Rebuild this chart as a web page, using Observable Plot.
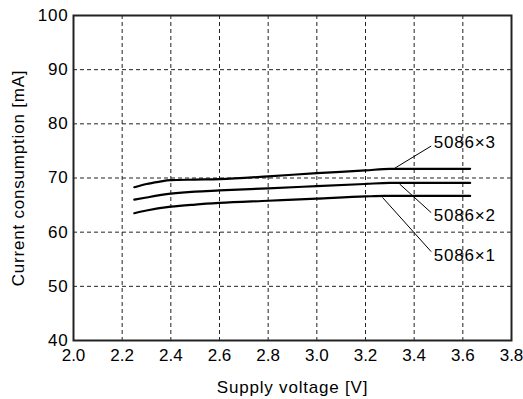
<!DOCTYPE html>
<html>
<head>
<meta charset="utf-8">
<script src="https://cdn.jsdelivr.net/npm/d3@7"></script>
<script src="https://cdn.jsdelivr.net/npm/@observablehq/plot@0.6"></script>
<style>
  html, body { margin: 0; padding: 0; background: #fff; }
  #chart g[aria-label="x-axis tick label"] { letter-spacing: 0px; }
</style>
</head>
<body>
<div id="chart"></div>
<script>
// Supply voltage [V] vs current consumption [mA]
const x1 = [2.25, 2.3, 2.4, 2.5, 2.6, 2.8, 3.0, 3.2, 3.28, 3.63];
const y1 = [63.5, 64.0, 64.7, 65.1, 65.4, 65.8, 66.2, 66.6, 66.7, 66.7];
const x2 = [2.25, 2.3, 2.4, 2.5, 2.6, 2.8, 3.0, 3.2, 3.3, 3.63];
const y2 = [66.0, 66.4, 67.1, 67.5, 67.7, 68.1, 68.5, 68.9, 69.1, 69.1];
const x3 = [2.25, 2.3, 2.35, 2.4, 2.5, 2.6, 2.8, 3.0, 3.2, 3.3, 3.63];
const y3 = [68.3, 68.9, 69.3, 69.6, 69.7, 69.8, 70.3, 70.9, 71.4, 71.7, 71.7];
const seriesNames = ["5086×1", "5086×2", "5086×3"];
// leader line endpoints [x0, y0, x1, y1] and label anchor [x, y]
const leaders = [[3.27, 66.4, 3.47, 56.4], [3.34, 68.9, 3.47, 63.6], [3.32, 71.8, 3.47, 75.9]];
const labelPos = [[3.48, 55.6], [3.48, 63.0], [3.48, 76.5]];
const xTicks = [2.0, 2.2, 2.4, 2.6, 2.8, 3.0, 3.2, 3.4, 3.6, 3.8];
const yTicks = [40, 50, 60, 70, 80, 90, 100];
const xGrid = [2.2, 2.4, 2.6, 2.8, 3.0, 3.2, 3.4, 3.6];
const yGrid = [50, 60, 70, 80, 90];
const xTitle = "Supply voltage [V]";
const yTitle = "Current consumption [mA]";

const xs = [x1, x2, x3], ys = [y1, y2, y3];
const lineData = seriesNames.flatMap((s, i) => xs[i].map((x, j) => ({series: s, x, y: ys[i][j]})));
const leaderData = leaders.map((l, i) => ({x1: l[0], y1: l[1], x2: l[2], y2: l[3]}));
const labelData = labelPos.map((p, i) => ({x: p[0], y: p[1], text: seriesNames[i]}));

const chart = Plot.plot({
  width: 523,
  height: 399,
  marginLeft: 73,
  marginRight: 12,
  marginTop: 15,
  marginBottom: 59,
  style: {fontFamily: "'Liberation Sans', Arial, sans-serif", fontSize: "17px", letterSpacing: "0.8px", color: "#000", background: "#fff"},
  x: {domain: [2.0, 3.8]},
  y: {domain: [40, 100]},
  marks: [
    Plot.gridX(xGrid, {stroke: "#222", strokeOpacity: 1, strokeDasharray: "4,3"}),
    Plot.gridY(yGrid, {stroke: "#222", strokeOpacity: 1, strokeDasharray: "4,3"}),
    Plot.axisX(xTicks, {tickSize: 0, tickPadding: 8, tickFormat: d => d.toFixed(1), label: null, fill: "#000"}),
    Plot.axisY(yTicks, {tickSize: 0, tickPadding: 5, label: null, fill: "#000"}),
    Plot.line(lineData, {x: "x", y: "y", z: "series", stroke: "#000", strokeWidth: 2.2, curve: "monotone-x"}),
    Plot.link(leaderData, {x1: "x1", y1: "y1", x2: "x2", y2: "y2", stroke: "#000", strokeWidth: 1}),
    Plot.text(labelData, {x: "x", y: "y", text: "text", textAnchor: "start", lineAnchor: "middle", fill: "#000"}),
    Plot.text([xTitle], {frameAnchor: "bottom", dy: 47, textAnchor: "middle", lineAnchor: "middle", fill: "#000"}),
    Plot.text([yTitle], {frameAnchor: "left", dx: -55, rotate: -90, textAnchor: "middle", lineAnchor: "middle", fill: "#000"}),
    Plot.frame({stroke: "#222", strokeWidth: 2})
  ]
});
document.getElementById("chart").appendChild(chart);
</script>
</body>
</html>
